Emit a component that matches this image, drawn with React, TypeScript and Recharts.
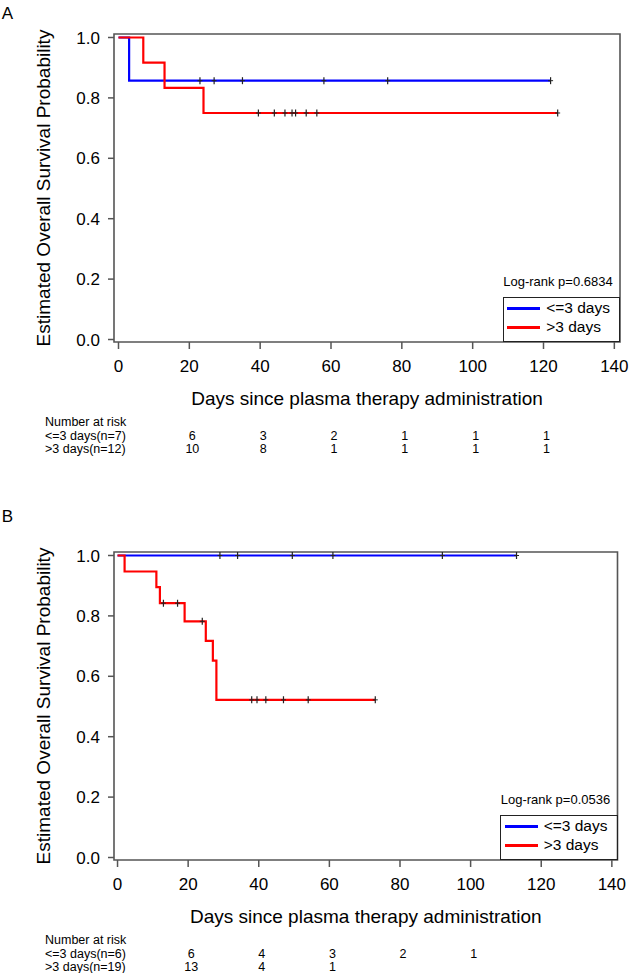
import React from 'react';
import { ComposedChart, Line, XAxis, YAxis, ReferenceArea, Legend, Label } from 'recharts';

const FONT = '"Liberation Sans", Arial, Helvetica, sans-serif';
const BLUE = '#0000ff';
const RED = '#ff0000';
const FRAME = '#555555';

// Shared axis / table values
const xTicks = [0, 20, 40, 60, 80, 100, 120, 140];
const yTicks = [0, 0.2, 0.4, 0.6, 0.8, 1.0];
const riskDays = [20, 40, 60, 80, 100, 120];
const groupNames = ['<=3 days', '>3 days'];
const groupColors = [BLUE, RED];

// Panel A
const aShortTimes = [0, 3, 122];
const aShortSurv = [1, 0.857, 0.857];
const aShortCensor = [23, 27, 35, 58, 76, 122];
const aLongTimes = [0, 7, 13, 24, 124];
const aLongSurv = [1, 0.917, 0.833, 0.75, 0.75];
const aLongCensor = [39.5, 44, 47, 49, 50, 53, 56, 124];
const aRiskShort: (number | null)[] = [6, 3, 2, 1, 1, 1];
const aRiskLong: (number | null)[] = [10, 8, 1, 1, 1, 1];
const aRowLabels = ['<=3 days(n=7)', '>3 days(n=12)'];
const aPValue = 'Log-rank p=0.6834';

// Panel B
const bShortTimes = [0, 113];
const bShortSurv = [1, 1];
const bShortCensor = [29, 34, 49.5, 61, 92, 113];
const bLongTimes = [0, 2, 11, 12, 19, 25, 27, 28, 73];
const bLongSurv = [1, 0.947, 0.895, 0.842, 0.782, 0.717, 0.652, 0.522, 0.522];
const bLongCensor = [13, 17, 24, 38, 39.5, 42, 47, 54, 73];
const bRiskShort: (number | null)[] = [6, 4, 3, 2, 1, null];
const bRiskLong: (number | null)[] = [13, 4, 1, null, null, null];
const bRowLabels = ['<=3 days(n=6)', '>3 days(n=19)'];
const bPValue = 'Log-rank p=0.0536';

// layout
const W = 630;
const H = 470;
const PLOT_TOP = 34;
const PLOT_BOTTOM = 342;
const PLOT_LEFT = 114;
const Y_MIN = -0.00828;
const Y_MAX = 1.01159;

function toCurve(times: number[], surv: number[]) {
  return times.map((t, i) => ({ t, s: surv[i] }));
}

function survAt(times: number[], surv: number[], t: number) {
  let s = surv[0];
  for (let i = 0; i < times.length; i++) {
    if (times[i] <= t) s = surv[i];
  }
  return s;
}

function toCensor(cens: number[], times: number[], surv: number[]) {
  return cens.map((t) => ({ t, s: survAt(times, surv, t) }));
}

const censorDot = (props: any) => {
  const { cx, cy, index } = props;
  if (cx == null || cy == null) return <g key={`c${index}`} />;
  return (
    <g key={`c${index}`}>
      <line x1={cx} x2={cx} y1={cy - 3.5} y2={cy + 3.5} stroke="#222" strokeWidth={1.2} />
      <line x1={cx - 2.5} x2={cx + 2.5} y1={cy} y2={cy} stroke="#222" strokeWidth={1} />
    </g>
  );
};

function makeXTick(rows: (number | null)[][], rowLabels: string[]) {
  return (props: any) => {
    const { x, y, payload } = props;
    const v = payload.value;
    const ri = riskDays.indexOf(v);
    return (
      <g>
        <text x={x} y={y + 23.3} textAnchor="middle" fontSize={17} fontFamily={FONT} fill="#000">
          {v}
        </text>
        {ri >= 0 &&
          rows.map((row, k) =>
            row[ri] == null ? null : (
              <text key={k} x={x + 3} y={y + 91 + 13 * k} textAnchor="middle" fontSize={12.5} fontFamily={FONT} fill="#000">
                {row[ri]}
              </text>
            )
          )}
        {v === 0 && (
          <g>
            <text x={45} y={y + 77.3} fontSize={12.5} fontFamily={FONT} fill="#000">
              Number at risk
            </text>
            {rowLabels.map((l, k) => (
              <text key={k} x={45} y={y + 91 + 13 * k} fontSize={12.5} fontFamily={FONT} fill="#000">
                {l}
              </text>
            ))}
          </g>
        )}
      </g>
    );
  };
}

function makeLegend(pValue: string) {
  return () => (
    <div style={{ position: 'relative', width: 140, height: 75, fontFamily: FONT, color: '#000' }}>
      <div style={{ position: 'absolute', right: 7.3, top: 5.2, fontSize: 13, lineHeight: '13px', whiteSpace: 'nowrap' }}>{pValue}</div>
      <div
        style={{
          position: 'absolute',
          left: 22.5,
          top: 26.5,
          width: 117.5,
          height: 45.5,
          border: '1.6px solid #222',
          boxSizing: 'border-box',
        }}
      >
        {groupNames.map((name, k) => (
          <React.Fragment key={name}>
            <div
              style={{
                position: 'absolute',
                left: 3.5,
                top: 9.6 + 19 * k,
                width: 33,
                height: 2.6,
                background: groupColors[k],
              }}
            />
            <div
              style={{
                position: 'absolute',
                left: 42.7,
                top: 2.9 + 19 * k,
                fontSize: 15.5,
                lineHeight: '16px',
                whiteSpace: 'nowrap',
              }}
            >
              {name}
            </div>
          </React.Fragment>
        ))}
      </div>
    </div>
  );
}

type PanelProps = {
  shortTimes: number[];
  shortSurv: number[];
  shortCensor: number[];
  longTimes: number[];
  longSurv: number[];
  longCensor: number[];
  riskShort: (number | null)[];
  riskLong: (number | null)[];
  rowLabels: string[];
  pValue: string;
  xMin: number;
  xMax: number;
  plotRight: number;
};

function Panel(p: PanelProps) {
  const rightMargin = W - p.plotRight;
  const titleX = (PLOT_LEFT + p.plotRight) / 2;
  const tick = makeXTick([p.riskShort, p.riskLong], p.rowLabels);
  return (
    <ComposedChart width={W} height={H} margin={{ top: PLOT_TOP, right: rightMargin, left: 0, bottom: 0 }}>
      <XAxis
        dataKey="t"
        type="number"
        domain={[p.xMin, p.xMax]}
        allowDataOverflow
        ticks={xTicks}
        interval={0}
        height={H - PLOT_BOTTOM - PLOT_TOP + PLOT_TOP}
        axisLine={false}
        tickLine={{ stroke: FRAME, strokeWidth: 1.5 }}
        tickSize={7}
        tickMargin={0}
        tick={tick}
      >
        <Label
          content={() => (
            <text x={titleX} y={PLOT_BOTTOM + 63} textAnchor="middle" fontSize={19} fontFamily={FONT} fill="#000">
              Days since plasma therapy administration
            </text>
          )}
        />
      </XAxis>
      <YAxis
        dataKey="s"
        type="number"
        domain={[Y_MIN, Y_MAX]}
        allowDataOverflow
        ticks={yTicks}
        interval={0}
        width={PLOT_LEFT}
        axisLine={false}
        tickLine={{ stroke: FRAME, strokeWidth: 1.5 }}
        tickSize={6}
        tickMargin={8}
        tickFormatter={(v: number) => v.toFixed(1)}
        tick={{ fontSize: 17, fill: '#000', fontFamily: FONT }}
      >
        <Label
          content={() => {
            const cy = (PLOT_TOP + PLOT_BOTTOM) / 2;
            return (
              <text x={50} y={cy} transform={`rotate(-90 50 ${cy})`} textAnchor="middle" fontSize={19} fontFamily={FONT} fill="#000">
                Estimated Overall Survival Probability
              </text>
            );
          }}
        />
      </YAxis>
      <ReferenceArea
        x1={p.xMin}
        x2={p.xMax}
        y1={Y_MIN}
        y2={Y_MAX}
        fill="none"
        fillOpacity={0}
        stroke={FRAME}
        strokeWidth={1.6}
        ifOverflow="visible"
      />
      <Line
        data={toCurve(p.shortTimes, p.shortSurv)}
        dataKey="s"
        type="stepAfter"
        stroke={BLUE}
        strokeWidth={2.2}
        dot={false}
        activeDot={false}
        isAnimationActive={false}
        legendType="none"
      />
      <Line
        data={toCurve(p.longTimes, p.longSurv)}
        dataKey="s"
        type="stepAfter"
        stroke={RED}
        strokeWidth={2.2}
        dot={false}
        activeDot={false}
        isAnimationActive={false}
        legendType="none"
      />
      <Line
        data={toCensor(p.shortCensor, p.shortTimes, p.shortSurv)}
        dataKey="s"
        stroke="none"
        dot={censorDot}
        activeDot={false}
        isAnimationActive={false}
        legendType="none"
      />
      <Line
        data={toCensor(p.longCensor, p.longTimes, p.longSurv)}
        dataKey="s"
        stroke="none"
        dot={censorDot}
        activeDot={false}
        isAnimationActive={false}
        legendType="none"
      />
      <Legend
        layout="vertical"
        align="center"
        verticalAlign="middle"
        content={makeLegend(p.pValue)}
        wrapperStyle={{ left: p.plotRight - 140, top: 270, width: 140, height: 75 }}
      />
    </ComposedChart>
  );
}

export default function App() {
  return (
    <div style={{ position: 'absolute', left: 0, top: 0, width: 630, height: 973, background: '#fff', fontFamily: FONT }}>
      <div style={{ position: 'absolute', left: 1.7, top: 5.1, fontSize: 17, lineHeight: '17px' }}>A</div>
      <div style={{ position: 'absolute', left: 1.7, top: 507.8, fontSize: 17, lineHeight: '17px' }}>B</div>
      <div style={{ position: 'absolute', left: 0, top: 0 }}>
        <Panel
          shortTimes={aShortTimes}
          shortSurv={aShortSurv}
          shortCensor={aShortCensor}
          longTimes={aLongTimes}
          longSurv={aLongSurv}
          longCensor={aLongCensor}
          riskShort={aRiskShort}
          riskLong={aRiskLong}
          rowLabels={aRowLabels}
          pValue={aPValue}
          xMin={-1.27}
          xMax={141.6}
          plotRight={620}
        />
      </div>
      <div style={{ position: 'absolute', left: 0, top: 518 }}>
        <Panel
          shortTimes={bShortTimes}
          shortSurv={bShortSurv}
          shortCensor={bShortCensor}
          longTimes={bLongTimes}
          longSurv={bLongSurv}
          longCensor={bLongCensor}
          riskShort={bRiskShort}
          riskLong={bRiskLong}
          rowLabels={bRowLabels}
          pValue={bPValue}
          xMin={-1.0}
          xMax={141.6}
          plotRight={617.5}
        />
      </div>
    </div>
  );
}
